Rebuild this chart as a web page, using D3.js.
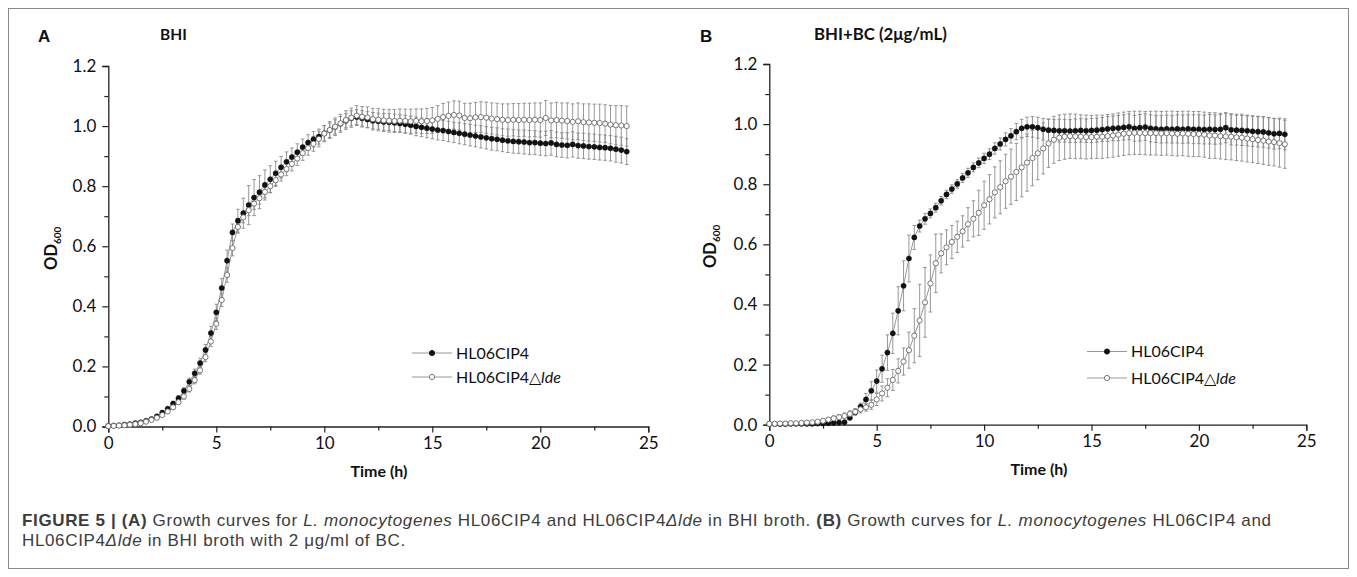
<!DOCTYPE html>
<html>
<head>
<meta charset="utf-8">
<script src="https://cdn.jsdelivr.net/npm/d3@7/dist/d3.min.js"></script>
<style>
    body { margin: 0; background: #fff; }
    svg text { font-family: Lato, "Open Sans", sans-serif; fill: #111; }
    .caption text { font-family: "Liberation Sans", Arial, sans-serif; }
</style>
</head>
<body>
<svg id="fig" width="1357" height="577"></svg>
<script>
// sampling times (h), every 15 min
const hours = [
    0, 0.25, 0.5, 0.75, 1, 1.25, 1.5, 1.75, 2, 2.25, 2.5, 2.75, 3, 3.25, 3.5, 3.75,
    4, 4.25, 4.5, 4.75, 5, 5.25, 5.5, 5.75, 6, 6.25, 6.5, 6.75, 7, 7.25, 7.5, 7.75,
    8, 8.25, 8.5, 8.75, 9, 9.25, 9.5, 9.75, 10, 10.25, 10.5, 10.75, 11, 11.25, 11.5, 11.75,
    12, 12.25, 12.5, 12.75, 13, 13.25, 13.5, 13.75, 14, 14.25, 14.5, 14.75, 15, 15.25, 15.5, 15.75,
    16, 16.25, 16.5, 16.75, 17, 17.25, 17.5, 17.75, 18, 18.25, 18.5, 18.75, 19, 19.25, 19.5, 19.75,
    20, 20.25, 20.5, 20.75, 21, 21.25, 21.5, 21.75, 22, 22.25, 22.5, 22.75, 23, 23.25, 23.5, 23.75,
    24
];

// Panel A - BHI
const bhiWT = [
    0.002, 0.003, 0.004, 0.006, 0.008, 0.011, 0.014, 0.019,
    0.025, 0.034, 0.046, 0.059, 0.076, 0.094, 0.119, 0.149,
    0.177, 0.211, 0.255, 0.311, 0.380, 0.461, 0.552, 0.646,
    0.685, 0.710, 0.737, 0.762, 0.780, 0.804, 0.823, 0.843,
    0.863, 0.881, 0.897, 0.913, 0.930, 0.945, 0.956, 0.965,
    0.976, 0.986, 0.997, 1.008, 1.018, 1.026, 1.030, 1.026,
    1.022, 1.018, 1.016, 1.014, 1.013, 1.011, 1.009, 1.006,
    1.003, 0.999, 0.996, 0.993, 0.990, 0.987, 0.985, 0.982,
    0.979, 0.976, 0.973, 0.970, 0.967, 0.964, 0.961, 0.958,
    0.956, 0.953, 0.951, 0.949, 0.948, 0.947, 0.945, 0.945,
    0.943, 0.942, 0.944, 0.939, 0.937, 0.936, 0.939, 0.935,
    0.934, 0.932, 0.931, 0.929, 0.928, 0.926, 0.923, 0.920,
    0.915
];
const bhiWTsd = [
    0.002, 0.002, 0.002, 0.002, 0.003, 0.003, 0.003, 0.004,
    0.004, 0.005, 0.006, 0.007, 0.008, 0.009, 0.010, 0.012,
    0.014, 0.016, 0.018, 0.022, 0.027, 0.032, 0.035, 0.028,
    0.038, 0.050, 0.065, 0.060, 0.055, 0.050, 0.045, 0.040,
    0.036, 0.033, 0.030, 0.028, 0.027, 0.026, 0.026, 0.025,
    0.025, 0.024, 0.024, 0.024, 0.024, 0.025, 0.025, 0.026,
    0.026, 0.027, 0.027, 0.028, 0.028, 0.029, 0.029, 0.030,
    0.030, 0.031, 0.031, 0.032, 0.032, 0.033, 0.033, 0.034,
    0.034, 0.035, 0.035, 0.036, 0.036, 0.037, 0.037, 0.038,
    0.038, 0.038, 0.039, 0.039, 0.039, 0.040, 0.040, 0.040,
    0.040, 0.041, 0.041, 0.041, 0.041, 0.042, 0.042, 0.042,
    0.042, 0.042, 0.042, 0.042, 0.042, 0.042, 0.043, 0.043,
    0.043
];
const bhiMut = [
    0.001, 0.002, 0.003, 0.004, 0.006, 0.008, 0.011, 0.016,
    0.022, 0.029, 0.038, 0.050, 0.064, 0.081, 0.100, 0.125,
    0.154, 0.187, 0.231, 0.283, 0.342, 0.421, 0.504, 0.594,
    0.664, 0.696, 0.720, 0.742, 0.760, 0.781, 0.800, 0.820,
    0.839, 0.857, 0.874, 0.892, 0.910, 0.927, 0.941, 0.957,
    0.975, 0.987, 0.998, 1.009, 1.020, 1.028, 1.035, 1.031,
    1.029, 1.023, 1.021, 1.019, 1.018, 1.017, 1.018, 1.017,
    1.016, 1.017, 1.016, 1.017, 1.019, 1.024, 1.030, 1.034,
    1.037, 1.035, 1.027, 1.026, 1.029, 1.030, 1.028, 1.025,
    1.023, 1.021, 1.020, 1.021, 1.020, 1.021, 1.020, 1.021,
    1.020, 1.027, 1.019, 1.020, 1.018, 1.017, 1.014, 1.016,
    1.013, 1.012, 1.011, 1.010, 1.008, 1.005, 1.003, 1.002,
    1.000
];
const bhiMutSd = [
    0.001, 0.001, 0.002, 0.002, 0.002, 0.003, 0.003, 0.003,
    0.004, 0.004, 0.005, 0.006, 0.007, 0.008, 0.009, 0.010,
    0.012, 0.013, 0.015, 0.017, 0.019, 0.022, 0.024, 0.026,
    0.020, 0.018, 0.018, 0.019, 0.020, 0.020, 0.021, 0.021,
    0.022, 0.022, 0.023, 0.023, 0.024, 0.024, 0.025, 0.026,
    0.027, 0.028, 0.029, 0.030, 0.031, 0.032, 0.033, 0.034,
    0.035, 0.036, 0.037, 0.037, 0.038, 0.038, 0.039, 0.039,
    0.040, 0.040, 0.041, 0.042, 0.043, 0.044, 0.045, 0.046,
    0.047, 0.048, 0.049, 0.050, 0.050, 0.051, 0.052, 0.052,
    0.053, 0.053, 0.054, 0.054, 0.055, 0.055, 0.056, 0.056,
    0.057, 0.058, 0.058, 0.059, 0.059, 0.060, 0.060, 0.061,
    0.061, 0.062, 0.062, 0.063, 0.063, 0.064, 0.065, 0.066,
    0.067
];

// Panel B - BHI + BC (2 ug/mL)
const bcWT = [
    0.002, 0.002, 0.002, 0.002, 0.003, 0.003, 0.003, 0.003,
    0.003, 0.004, 0.004, 0.005, 0.006, 0.007, 0.008, 0.023,
    0.041, 0.060, 0.084, 0.113, 0.145, 0.186, 0.240, 0.304,
    0.379, 0.462, 0.553, 0.623, 0.661, 0.685, 0.703, 0.722,
    0.745, 0.766, 0.784, 0.801, 0.821, 0.838, 0.856, 0.871,
    0.886, 0.900, 0.919, 0.934, 0.949, 0.961, 0.975, 0.986,
    0.991, 0.991, 0.988, 0.983, 0.980, 0.979, 0.978, 0.978,
    0.977, 0.978, 0.979, 0.978, 0.979, 0.980, 0.982, 0.984,
    0.986, 0.987, 0.989, 0.991, 0.986, 0.988, 0.990, 0.986,
    0.984, 0.983, 0.984, 0.983, 0.984, 0.983, 0.984, 0.983,
    0.983, 0.982, 0.983, 0.982, 0.983, 0.988, 0.981, 0.980,
    0.979, 0.978, 0.976, 0.975, 0.974, 0.971, 0.968, 0.969,
    0.966
];
const bcWTsd = [
    0.002, 0.002, 0.002, 0.002, 0.002, 0.002, 0.002, 0.002,
    0.002, 0.002, 0.003, 0.003, 0.003, 0.004, 0.004, 0.006,
    0.008, 0.012, 0.020, 0.030, 0.037, 0.045, 0.059, 0.067,
    0.080, 0.083, 0.078, 0.040, 0.020, 0.018, 0.015, 0.015,
    0.014, 0.014, 0.014, 0.014, 0.015, 0.015, 0.015, 0.016,
    0.017, 0.018, 0.019, 0.020, 0.022, 0.024, 0.027, 0.030,
    0.032, 0.034, 0.035, 0.036, 0.037, 0.037, 0.038, 0.038,
    0.038, 0.039, 0.039, 0.039, 0.040, 0.040, 0.040, 0.041,
    0.041, 0.042, 0.042, 0.043, 0.043, 0.044, 0.044, 0.045,
    0.045, 0.046, 0.046, 0.046, 0.047, 0.047, 0.047, 0.048,
    0.048, 0.048, 0.049, 0.049, 0.049, 0.050, 0.050, 0.050,
    0.050, 0.050, 0.050, 0.051, 0.051, 0.051, 0.051, 0.051,
    0.052
];
const bcMut = [
    0.003, 0.003, 0.004, 0.004, 0.005, 0.005, 0.006, 0.007,
    0.008, 0.010, 0.013, 0.017, 0.021, 0.025, 0.029, 0.036,
    0.043, 0.051, 0.058, 0.066, 0.084, 0.104, 0.123, 0.149,
    0.179, 0.210, 0.248, 0.296, 0.347, 0.407, 0.470, 0.537,
    0.570, 0.590, 0.608, 0.625, 0.643, 0.667, 0.685, 0.705,
    0.730, 0.750, 0.773, 0.790, 0.810, 0.825, 0.841, 0.856,
    0.872, 0.887, 0.903, 0.919, 0.936, 0.948, 0.955, 0.958,
    0.960, 0.959, 0.958, 0.957, 0.957, 0.958, 0.958, 0.960,
    0.962, 0.965, 0.968, 0.970, 0.971, 0.971, 0.970, 0.970,
    0.970, 0.969, 0.970, 0.969, 0.968, 0.969, 0.968, 0.967,
    0.967, 0.965, 0.962, 0.962, 0.960, 0.959, 0.958, 0.956,
    0.955, 0.952, 0.950, 0.947, 0.945, 0.942, 0.940, 0.937,
    0.933
];
const bcMutSd = [
    0.002, 0.002, 0.002, 0.002, 0.003, 0.003, 0.003, 0.003,
    0.004, 0.004, 0.005, 0.006, 0.008, 0.009, 0.010, 0.010,
    0.011, 0.012, 0.013, 0.015, 0.020, 0.025, 0.030, 0.035,
    0.040, 0.045, 0.060, 0.090, 0.120, 0.116, 0.095, 0.097,
    0.065, 0.058, 0.055, 0.052, 0.052, 0.055, 0.060, 0.075,
    0.080, 0.082, 0.085, 0.088, 0.090, 0.092, 0.095, 0.098,
    0.095, 0.092, 0.088, 0.085, 0.080, 0.078, 0.076, 0.075,
    0.074, 0.074, 0.073, 0.073, 0.072, 0.072, 0.072, 0.072,
    0.072, 0.072, 0.072, 0.072, 0.072, 0.072, 0.072, 0.073,
    0.073, 0.073, 0.073, 0.074, 0.074, 0.074, 0.075, 0.075,
    0.075, 0.075, 0.076, 0.076, 0.076, 0.077, 0.077, 0.077,
    0.078, 0.078, 0.078, 0.078, 0.079, 0.079, 0.079, 0.080,
    0.080
];

const xTicks = [0, 5, 10, 15, 20, 25];
const xMinor = [2.5, 7.5, 12.5, 17.5, 22.5];
const yTicks = [0, 0.2, 0.4, 0.6, 0.8, 1.0, 1.2];
const yMinor = [0.1, 0.3, 0.5, 0.7, 0.9, 1.1];
const strains = ["HL06CIP4", "HL06CIP4\u25B3"];

const svg = d3.select("#fig");

// outer frame
svg.append("rect")
    .attr("x", 8.5).attr("y", 8.5)
    .attr("width", 1340).attr("height", 560)
    .attr("fill", "none").attr("stroke", "#8a8a8a").attr("stroke-width", 1);

const panels = [
    {
        letter: "A", title: "BHI", titleSize: 15.5,
        wt: bhiWT, wtSd: bhiWTsd, mut: bhiMut, mutSd: bhiMutSd,
        x0: 108.3, x1: 648.3, yb: 426.5, yt: 66,
        letterX: 38, titleX: 160, odX: 57, timeX: 379, timeY: 477,
        legX: 412, legY: [353, 377]
    },
    {
        letter: "B", title: "BHI+BC (2\u03BCg/mL)", titleSize: 16.8,
        wt: bcWT, wtSd: bcWTsd, mut: bcMut, mutSd: bcMutSd,
        x0: 769.3, x1: 1306.3, yb: 424.7, yt: 64,
        letterX: 700, titleX: 814, odX: 716, timeX: 1039, timeY: 475,
        legX: 1087, legY: [351.5, 378]
    }
];

panels.forEach(p => drawPanel(p));

function drawPanel(p) {
    const x = d3.scaleLinear().domain([0, 25]).range([p.x0, p.x1]);
    const y = d3.scaleLinear().domain([0, 1.2]).range([p.yb, p.yt]);
    const g = svg.append("g");

    // axes: major then minor ticks
    g.append("g").attr("transform", `translate(0,${p.yb})`)
        .call(d3.axisBottom(x).tickValues(xTicks).tickSize(6).tickPadding(4).tickFormat(d3.format("d")));
    g.append("g").attr("transform", `translate(0,${p.yb})`)
        .call(d3.axisBottom(x).tickValues(xMinor).tickSize(4).tickFormat(""))
        .select(".domain").remove();
    g.append("g").attr("transform", `translate(${p.x0},0)`)
        .call(d3.axisLeft(y).tickValues(yTicks).tickSize(6).tickPadding(6).tickFormat(d3.format(".1f")));
    g.append("g").attr("transform", `translate(${p.x0},0)`)
        .call(d3.axisLeft(y).tickValues(yMinor).tickSize(4).tickFormat(""))
        .select(".domain").remove();

    g.selectAll(".domain").attr("stroke", "#222").attr("stroke-width", 1.3);
    g.selectAll(".tick line").attr("stroke", "#222").attr("stroke-width", 1.2);
    g.selectAll(".tick text")
        .style("font-family", "Lato, 'Open Sans', sans-serif")
        .style("font-size", "17px").attr("fill", "#111");

    // axis titles
    g.append("text")
        .attr("x", p.timeX).attr("y", p.timeY)
        .attr("text-anchor", "middle")
        .style("font-size", "16px").style("font-weight", "bold")
        .text("Time (h)");
    const od = g.append("text")
        .attr("transform", `translate(${p.odX},${(p.yb + p.yt) / 2 + 2}) rotate(-90)`)
        .attr("text-anchor", "middle")
        .style("font-size", "16.5px").style("font-weight", "bold");
    od.append("tspan").text("OD");
    od.append("tspan").attr("dy", 4).style("font-size", "10px").text("600");

    // panel letter and condition
    g.append("text").attr("x", p.letterX).attr("y", 42)
        .style("font-family", "'Liberation Sans', Arial, sans-serif")
        .style("font-size", "17px").style("font-weight", "bold")
        .text(p.letter);
    g.append("text").attr("x", p.titleX).attr("y", 40)
        .style("font-size", p.titleSize + "px").style("font-weight", "bold")
        .text(p.title);

    // data
    const series = [
        { v: p.wt, sd: p.wtSd, filled: true },
        { v: p.mut, sd: p.mutSd, filled: false }
    ];
    const cap = 1.8;

    series.forEach(s => {
        const pts = hours.map((h, i) => ({ h, v: s.v[i], sd: s.sd[i] }));
        const bars = g.append("g")
            .attr("stroke", "#858585").attr("stroke-width", 0.85).attr("fill", "none");
        bars.selectAll("path").data(pts).join("path")
            .attr("d", d => {
                const cx = x(d.h), t = y(d.v + d.sd), b = y(d.v - d.sd);
                return `M${cx},${t}V${b}M${cx - cap},${t}H${cx + cap}M${cx - cap},${b}H${cx + cap}`;
            });
    });

    series.forEach(s => {
        const pts = hours.map((h, i) => ({ h, v: s.v[i] }));
        g.append("path").datum(pts)
            .attr("fill", "none").attr("stroke", "#8c8c8c").attr("stroke-width", 0.9)
            .attr("d", d3.line().x(d => x(d.h)).y(d => y(d.v)));
    });

    series.forEach(s => {
        const pts = hours.map((h, i) => ({ h, v: s.v[i] }));
        g.append("g").selectAll("circle").data(pts).join("circle")
            .attr("cx", d => x(d.h)).attr("cy", d => y(d.v))
            .attr("r", 2.6)
            .attr("fill", s.filled ? "#111" : "#fff")
            .attr("stroke", s.filled ? "#111" : "#6a6a6a")
            .attr("stroke-width", s.filled ? 0.5 : 0.9);
    });

    // legend
    const leg = g.append("g");
    strains.forEach((name, i) => {
        const ly = p.legY[i];
        leg.append("line")
            .attr("x1", p.legX).attr("x2", p.legX + 40)
            .attr("y1", ly).attr("y2", ly)
            .attr("stroke", "#9a9a9a").attr("stroke-width", 1.2);
        leg.append("circle")
            .attr("cx", p.legX + 20).attr("cy", ly).attr("r", 2.6)
            .attr("fill", i === 0 ? "#111" : "#fff")
            .attr("stroke", i === 0 ? "#111" : "#6a6a6a").attr("stroke-width", 0.9);
        const t = leg.append("text")
            .attr("x", p.legX + 44).attr("y", ly + 5.5)
            .style("font-size", "16px");
        t.append("tspan").text(name);
        if (i === 1) t.append("tspan").style("font-style", "italic").text("lde");
    });
}

// caption
const capG = svg.append("g").attr("class", "caption");
const capFill = "#3c3c3c";
const capSize = 17;
const line1 = capG.append("text").attr("x", 22).attr("y", 526)
    .style("font-size", capSize + "px").attr("fill", capFill);
[
    ["FIGURE 5 | (A)", "b"], [" Growth curves for ", ""], ["L. monocytogenes", "i"],
    [" HL06CIP4 and HL06CIP4", ""], ["\u0394lde", "i"], [" in BHI broth. ", ""],
    ["(B)", "b"], [" Growth curves for ", ""], ["L. monocytogenes", "i"], [" HL06CIP4 and", ""]
].forEach(([s, f]) => {
    line1.append("tspan").text(s)
        .style("font-weight", f === "b" ? "bold" : null)
        .style("font-style", f === "i" ? "italic" : null)
        .attr("fill", capFill);
});
const line2 = capG.append("text").attr("x", 22).attr("y", 546)
    .style("font-size", capSize + "px").attr("fill", capFill);
[["HL06CIP4", ""], ["\u0394lde", "i"], [" in BHI broth with 2 \u03BCg/ml of BC.", ""]]
    .forEach(([s, f]) => {
        line2.append("tspan").text(s)
            .style("font-style", f === "i" ? "italic" : null)
            .attr("fill", capFill);
    });

// stretch caption tracking so line 1 spans the same width as in the figure
const targetWidth = 1249;
const n1 = line1.text().length;
const spacing = (targetWidth - line1.node().getComputedTextLength()) / (n1 - 1);
capG.selectAll("text").style("letter-spacing", spacing + "px");
</script>
</body>
</html>
